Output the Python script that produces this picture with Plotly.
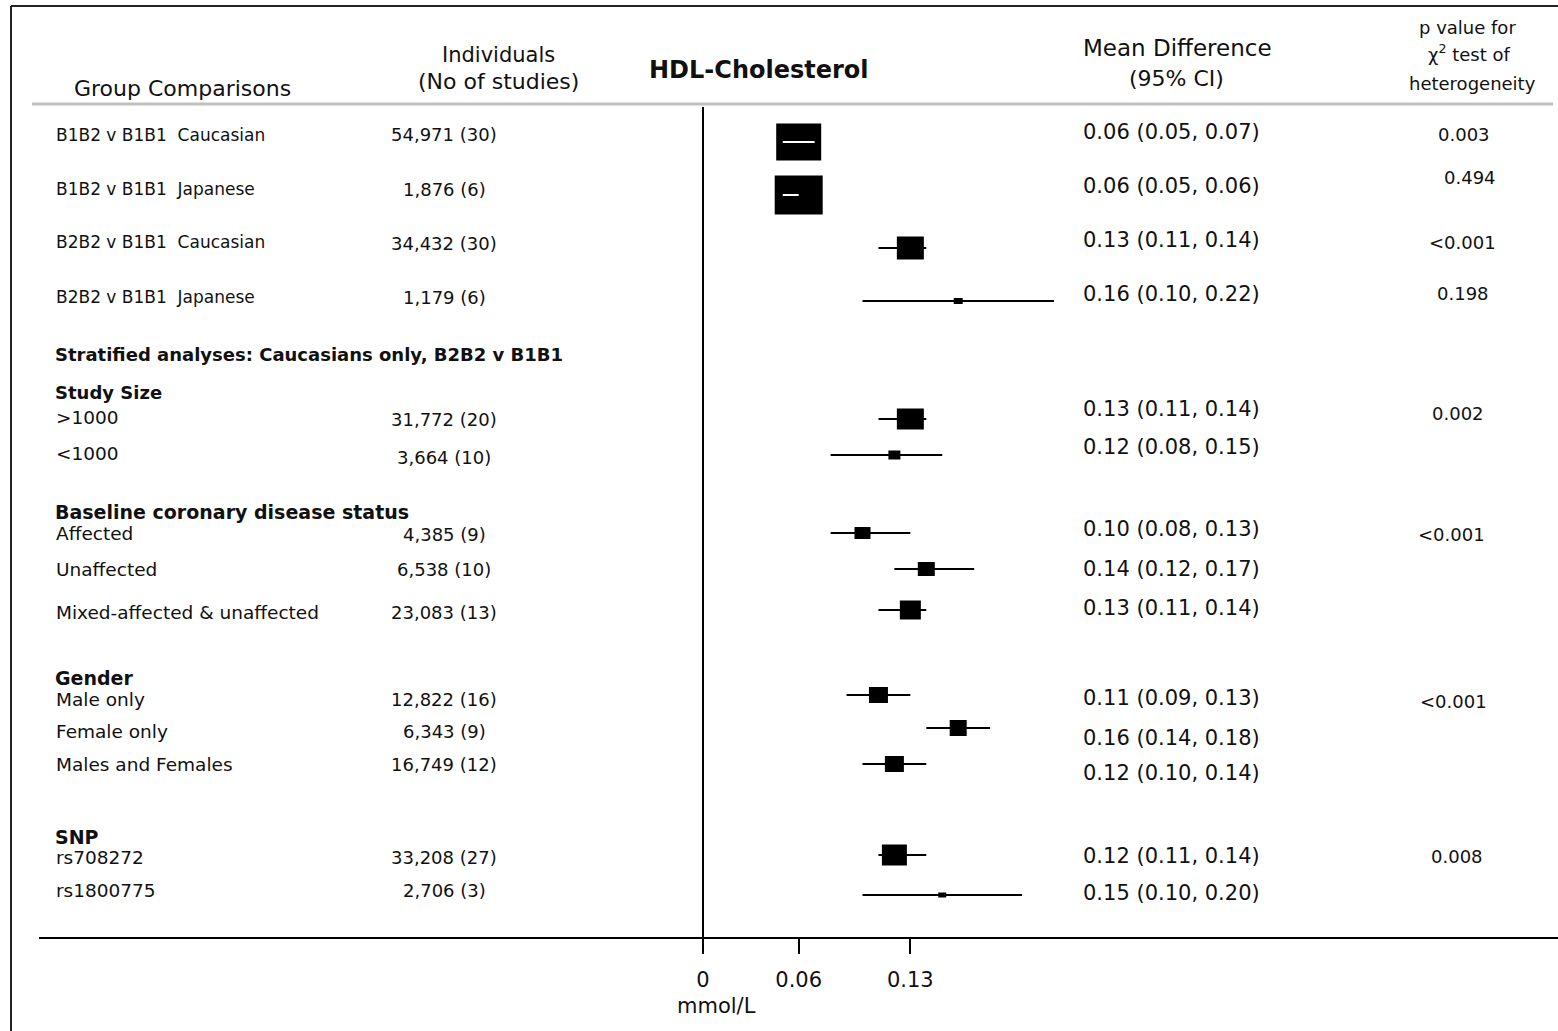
import plotly.graph_objects as go

W, H = 1558, 1031

# ---- data -------------------------------------------------------------
groups = [
    "B1B2 v B1B1  Caucasian", "B1B2 v B1B1  Japanese",
    "B2B2 v B1B1  Caucasian", "B2B2 v B1B1  Japanese",
    ">1000", "<1000",
    "Affected", "Unaffected", "Mixed-affected & unaffected",
    "Male only", "Female only", "Males and Females",
    "rs708272", "rs1800775",
]
individuals = [
    "54,971 (30)", "1,876 (6)", "34,432 (30)", "1,179 (6)",
    "31,772 (20)", "3,664 (10)",
    "4,385 (9)", "6,538 (10)", "23,083 (13)",
    "12,822 (16)", "6,343 (9)", "16,749 (12)",
    "33,208 (27)", "2,706 (3)",
]
est = [0.06, 0.06, 0.13, 0.16, 0.13, 0.12, 0.10, 0.14, 0.13, 0.11, 0.16, 0.12, 0.12, 0.15]
lo = [0.05, 0.05, 0.11, 0.10, 0.11, 0.08, 0.08, 0.12, 0.11, 0.09, 0.14, 0.10, 0.11, 0.10]
hi = [0.07, 0.06, 0.14, 0.22, 0.14, 0.15, 0.13, 0.17, 0.14, 0.13, 0.18, 0.14, 0.14, 0.20]
p_het = ["0.003", "0.494", "<0.001", "0.198", "0.002", None,
         "<0.001", None, None, "<0.001", None, None, "0.008", None]

sections = ["Stratified analyses: Caucasians only, B2B2 v B1B1",
            "Study Size", "Baseline coronary disease status", "Gender", "SNP"]

tick_vals = [0, 0.06, 0.13]
tick_text = ["0", "0.06", "0.13"]

# ---- layout (pixels) ----------------------------------------------------
row_y = [142, 195, 248, 301, 419, 455, 533, 569, 610, 695, 728, 764, 855, 895]
label_y = [135, 189, 242, 297, 417, 453, 533, 569, 612, 699, 731, 764, 857, 890]
indiv_y = [135, 189, 243, 297, 420, 457, 534, 569, 612, 699, 731, 764, 857, 890]
md_y = [132, 186, 240, 294, 409, 447, 529, 569, 608, 698, 738, 773, 856, 893]
p_pos = [(1464, 135), (1470, 178), (1462, 242), (1463, 293), (1458, 413), None,
         (1451, 534), None, None, (1453, 701), None, None, (1457, 856), None]
section_y = [354, 392, 512, 678, 837]
section_size = [18, 18, 19, 19, 19]
box_px = [(45, 37), (48, 39), (27, 23), (9, 6), (27, 21), (12, 9), (16, 12),
          (17, 14), (21, 19), (19, 16), (17, 16), (19, 16), (25, 21), (8, 5)]

PX_ZERO, PX_PER_UNIT = 703, 1595
AX_LEFT, AX_RIGHT, AXIS_Y = 39, 1558, 938
x_range = [(AX_LEFT - PX_ZERO) / PX_PER_UNIT, (AX_RIGHT - PX_ZERO) / PX_PER_UNIT]

SANS = "DejaVu Sans"
INK = "#111111"

fig = go.Figure()

# confidence intervals
xs, ys = [], []
for l, h_, y in zip(lo, hi, row_y):
    xs += [l, h_, None]
    ys += [y, y, None]
fig.add_trace(go.Scatter(x=xs, y=ys, mode="lines",
                         line=dict(color="black", width=2),
                         hoverinfo="skip", showlegend=False))

# weighted boxes; intervals that sit inside a box are shown in white
wx, wy = [], []
for e, l, h_, y, (bw, bh) in zip(est, lo, hi, row_y, box_px):
    half = bw / 2 / PX_PER_UNIT
    fig.add_shape(type="rect", xref="x", yref="y",
                  x0=e - half, x1=e + half, y0=y - bh / 2, y1=y + bh / 2,
                  fillcolor="black", line_width=0, layer="below")
    if l >= e - half and h_ <= e + half:
        wx += [l, h_, None]
        wy += [y, y, None]
fig.add_trace(go.Scatter(x=wx, y=wy, mode="lines",
                         line=dict(color="white", width=2),
                         hoverinfo="skip", showlegend=False))

# line of no effect
fig.add_shape(type="line", xref="x", yref="y", x0=0, x1=0, y0=107, y1=AXIS_Y,
              line=dict(color="black", width=2))


def px(x):
    return x / W


def py(y):
    return 1 - y / H


# frame and header rule
fig.add_shape(type="line", xref="paper", yref="paper", x0=px(11), x1=px(11),
              y0=py(6), y1=0, line=dict(color="#222222", width=2))
fig.add_shape(type="line", xref="paper", yref="paper", x0=px(11), x1=1,
              y0=py(6), y1=py(6), line=dict(color="#222222", width=2))
fig.add_shape(type="line", xref="paper", yref="paper", x0=px(32), x1=px(1553),
              y0=py(104), y1=py(104), line=dict(color="#c0c0c0", width=3))


def txt(x, y, s, size, anchor="left", bold=False, color=INK, family=SANS):
    fig.add_annotation(x=px(x), y=py(y), xref="paper", yref="paper", text=s,
                       showarrow=False, xanchor=anchor, yanchor="middle",
                       font=dict(family=family, size=size, color=color,
                                 weight="bold" if bold else "normal"))


# column headers
txt(182, 88, "Group Comparisons", 22, "center")
txt(498, 55, "Individuals", 21, "center")
txt(498, 82, "(No of studies)", 22, "center")
txt(759, 70, "HDL-Cholesterol", 24, "center", bold=True)
txt(1177, 48, "Mean Difference", 23, "center")
txt(1176, 78, "(95% CI)", 22, "center")
txt(1467, 27, "p value for", 18, "center")
txt(1469, 53, "χ<sup>2</sup> test of", 18, "center")
txt(1472, 84, "heterogeneity", 18, "center")

# section headings
for s, y, sz in zip(sections, section_y, section_size):
    txt(53, y, s, sz, bold=True)

# rows
for i in range(len(groups)):
    txt(54, label_y[i], groups[i], 17 if i < 4 else 18.5)
    txt(444, indiv_y[i], individuals[i], 18, "center")
    txt(1081, md_y[i], f"{est[i]:.2f} ({lo[i]:.2f}, {hi[i]:.2f})", 21)
    if p_het[i] is not None:
        x, y = p_pos[i]
        txt(x, y, p_het[i], 18, "center")

txt(716, 1006, "mmol/L", 21, "center")

fig.update_layout(
    width=W, height=H,
    margin=dict(l=0, r=0, t=0, b=0),
    paper_bgcolor="white", plot_bgcolor="white",
    showlegend=False,
    font=dict(family=SANS, color=INK),
    xaxis=dict(domain=[AX_LEFT / W, 1], range=x_range, anchor="free",
               position=py(AXIS_Y), showline=True, linecolor="black",
               linewidth=2, ticks="outside", ticklen=15, tickwidth=2,
               tickcolor="black", tickvals=tick_vals, ticktext=tick_text,
               tickfont=dict(size=21, family=SANS, color=INK),
               ticklabelstandoff=8,
               showgrid=False, zeroline=False, fixedrange=True),
    yaxis=dict(domain=[0, 1], range=[H, 0], visible=False,
               showgrid=False, zeroline=False, fixedrange=True),
)

fig.write_html("out.html")
